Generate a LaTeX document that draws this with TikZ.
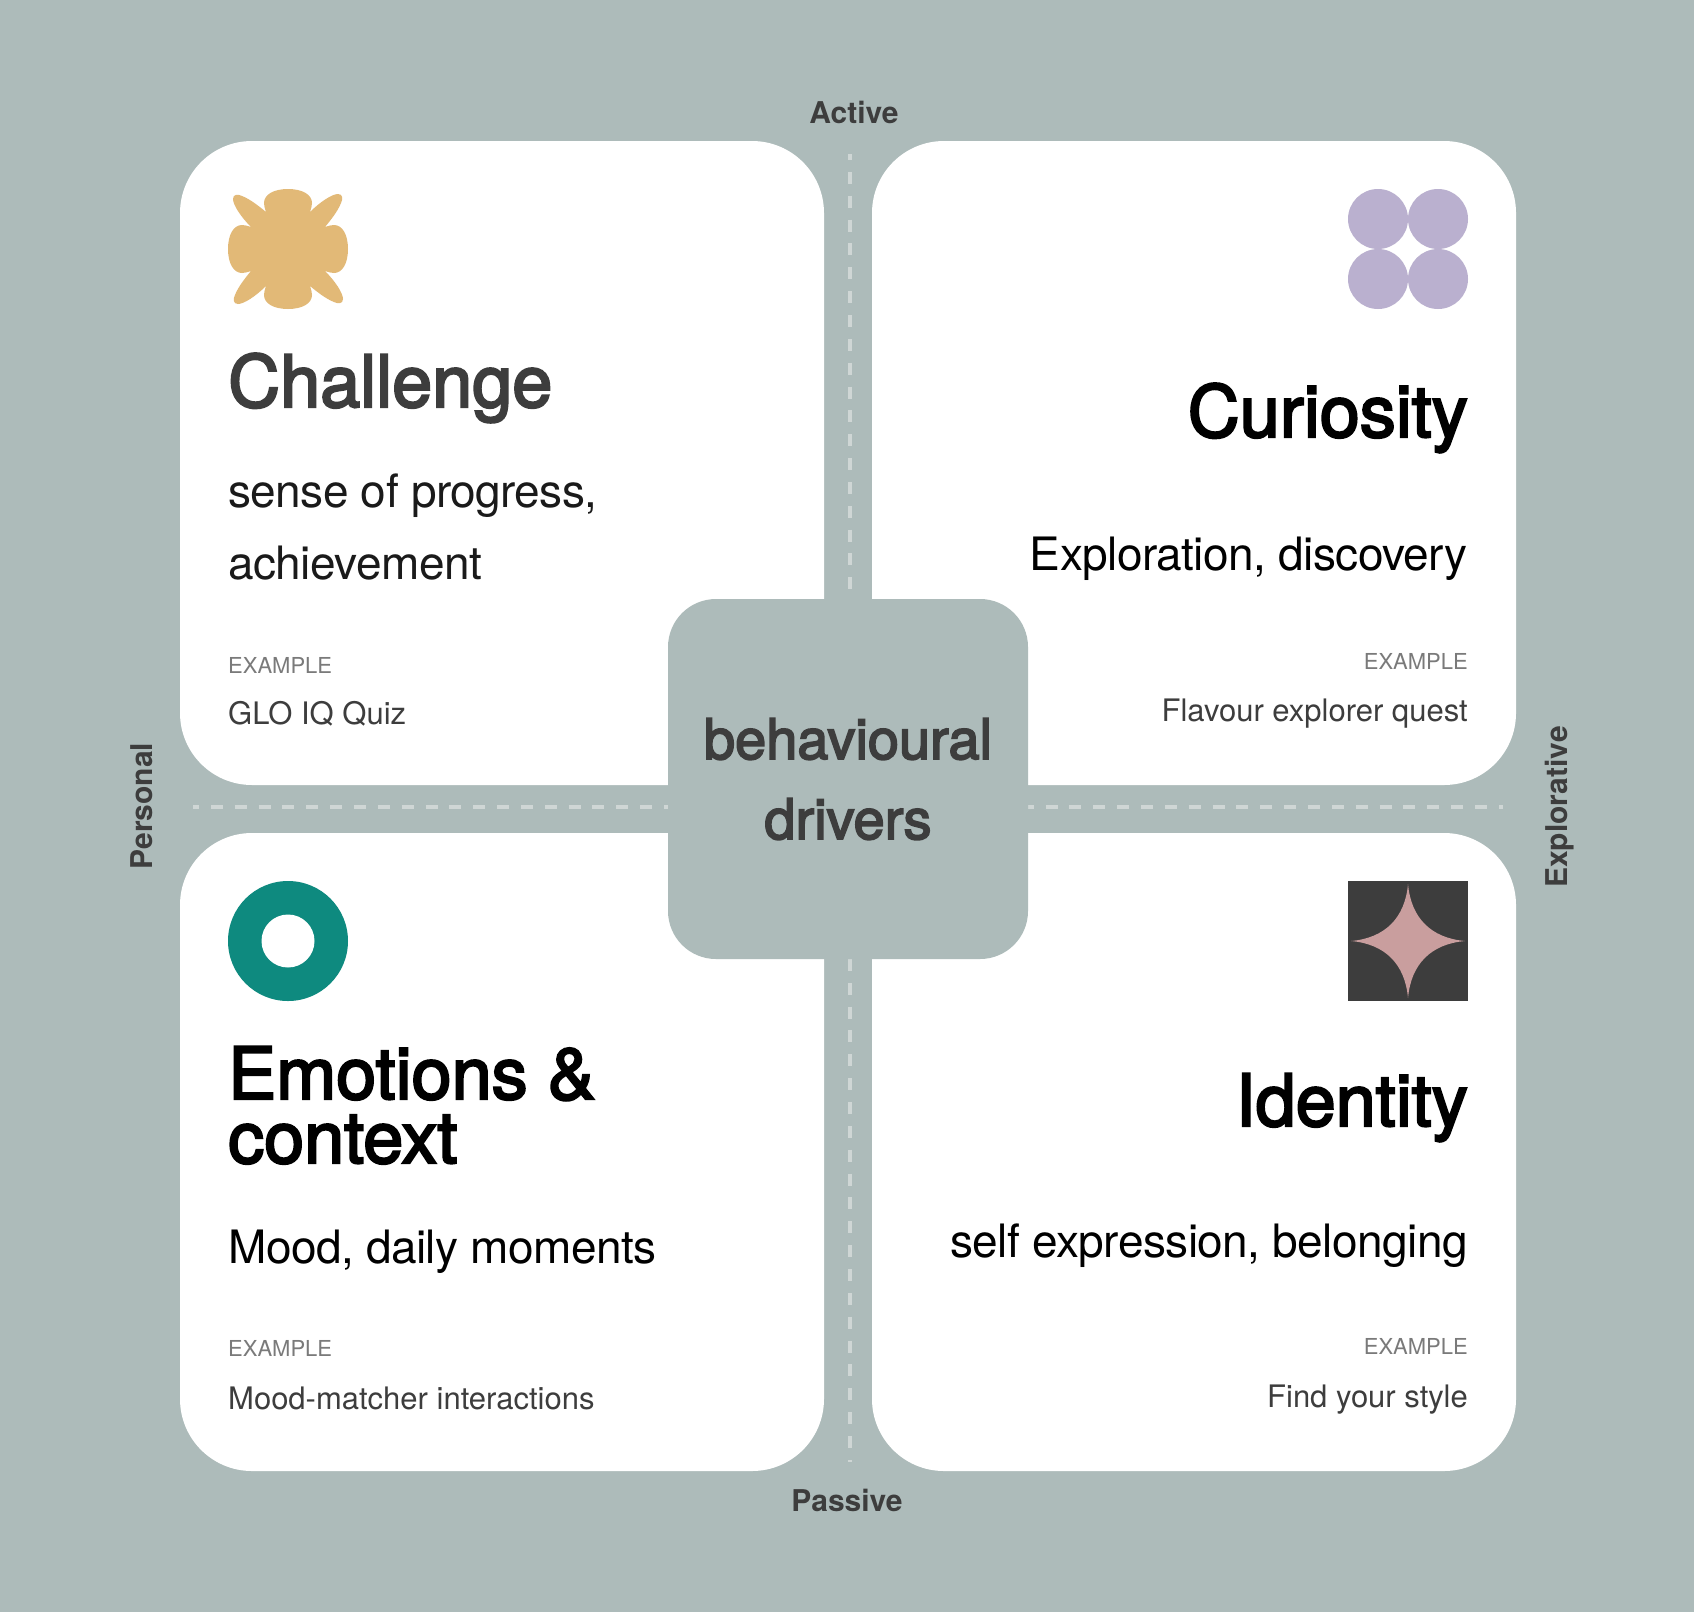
\documentclass[tikz,border=0pt]{standalone}
\usepackage{fontspec}
\setmainfont{TeX Gyre Heros}
\newfontfamily\midfont[FakeBold=3]{TeX Gyre Heros}
\newfontfamily\subfont[LetterSpace=-1.2]{TeX Gyre Heros}
\usetikzlibrary{positioning}
\definecolor{bgcol}{HTML}{ADBBBA}
\definecolor{dashcol}{HTML}{CFD6D5}
\definecolor{inkcol}{HTML}{3D3D3D}
\definecolor{softcol}{HTML}{1A1A1A}
\definecolor{labelcol}{HTML}{7A7A7A}
\definecolor{flowercol}{HTML}{E2B977}
\definecolor{dotcol}{HTML}{BAB0CF}
\definecolor{ringcol}{HTML}{0E8A7F}
\definecolor{starcol}{HTML}{C99E9E}
\newcommand{\fsize}[1]{\fontsize{#1}{#1}\selectfont}

\begin{document}
\begin{tikzpicture}[
  x=1pt,y=-1pt,
  every node/.style={inner sep=0pt},
  card/.style={fill=white,rounded corners=72pt,minimum width=644pt},
  hub/.style={fill=bgcol,rounded corners=48pt,minimum size=360pt},
  axis/.style={dashcol,line width=4pt,dash pattern=on 12pt off 11.85pt,dash phase=6pt},
  axlabel/.style={font=\bfseries\fsize{30},text=inkcol,anchor=base},
  title/.style={font=\midfont\fsize{72},text=black},
  sub/.style={font=\subfont\fsize{46},text=black},
  exlabel/.style={font=\fsize{22},text=labelcol},
  exitem/.style={font=\fsize{31},text=inkcol}
]
\useasboundingbox (0,0) rectangle (1694,1612);
\fill[bgcol] (0,0) rectangle (1694,1612);
% axes
\coordinate (axleft) at (193,807);
\coordinate (axright) at (1503,807);
\coordinate (axtop) at (850,154);
\coordinate (axbot) at (850,1462);
\draw[axis] (axleft) -- (axright);
\draw[axis] (axtop) -- (axbot);
% cards
\node[card,minimum height=644pt] (cardtl) at (502,463) {};
\node[card,minimum height=644pt] (cardtr) at (1194,463) {};
\node[card,minimum height=638pt] (cardbl) at (502,1152) {};
\node[card,minimum height=638pt] (cardbr) at (1194,1152) {};
\node[hub] (hub) at (848,779) {};
\node[font=\midfont\fsize{56},text=inkcol,anchor=base] (hubtop) at (848,759) {behavioural};
\node[font=\midfont\fsize{56},text=inkcol,anchor=base] (hubbot) at (848,839) {drivers};
% axis labels
\node[axlabel] (active) at (854,123) {Active};
\node[axlabel] (passive) at (847,1511) {Passive};
\node[axlabel,rotate=90] (personal) at (152,806) {Personal};
\node[axlabel,rotate=90] (explorative) at (1567,807) {Explorative};
% top left
\fill[flowercol,shift={(288,249)}] (0,-60)
  .. controls (15,-60) and (24,-54) .. (24,-46)
  .. controls (24,-43) and (23,-40) .. (22,-37)
  .. controls (32,-47) and (44,-55) .. (50,-55)
  .. controls (55,-55) and (55,-50) .. (53,-46)
  .. controls (50,-38) and (42,-28) .. (37,-22)
  .. controls (40,-23) and (43,-24) .. (46,-24)
  .. controls (54,-24) and (60,-15) .. (60,0)
  .. controls (60,15) and (54,24) .. (46,24)
  .. controls (43,24) and (40,23) .. (37,22)
  .. controls (47,32) and (55,44) .. (55,50)
  .. controls (55,55) and (50,55) .. (46,53)
  .. controls (38,50) and (28,42) .. (22,37)
  .. controls (23,40) and (24,43) .. (24,46)
  .. controls (24,54) and (15,60) .. (0,60)
  .. controls (-15,60) and (-24,54) .. (-24,46)
  .. controls (-24,43) and (-23,40) .. (-22,37)
  .. controls (-32,47) and (-44,55) .. (-50,55)
  .. controls (-55,55) and (-55,50) .. (-53,46)
  .. controls (-50,38) and (-42,28) .. (-37,22)
  .. controls (-40,23) and (-43,24) .. (-46,24)
  .. controls (-54,24) and (-60,15) .. (-60,0)
  .. controls (-60,-15) and (-54,-24) .. (-46,-24)
  .. controls (-43,-24) and (-40,-23) .. (-37,-22)
  .. controls (-47,-32) and (-55,-44) .. (-55,-50)
  .. controls (-55,-55) and (-50,-55) .. (-46,-53)
  .. controls (-38,-50) and (-28,-42) .. (-22,-37)
  .. controls (-23,-40) and (-24,-43) .. (-24,-46)
  .. controls (-24,-54) and (-15,-60) .. (0,-60) -- cycle;
\node[title,text=inkcol,anchor=base west] (challenge) at (228,407) {Challenge};
\node[sub,text=softcol,anchor=base west] (progress) at (228,507) {sense of progress,};
\node[sub,text=softcol,anchor=base west] (achieve) at (228,579) {achievement};
\node[exlabel,anchor=base west] (extl) at (228,673) {EXAMPLE};
\node[exitem,anchor=base west] (quiz) at (228,724) {GLO IQ Quiz};
% top right
\foreach \cx/\cy in {1378/219,1438/219,1378/279,1438/279}
  \fill[dotcol] (\cx,\cy) circle (30pt);
\node[title,anchor=base east] (curiosity) at (1468,437) {Curiosity};
\node[sub,anchor=base east] (explore) at (1468,570) {Exploration, discovery};
\node[exlabel,anchor=base east] (extr) at (1468,669) {EXAMPLE};
\node[exitem,anchor=base east] (quest) at (1468,721) {Flavour explorer quest};
% bottom left
\fill[ringcol] (288,941) circle (60pt);
\fill[white] (288,941) circle (26.5pt);
\node[title,anchor=base west] (emotions) at (228,1099) {Emotions \&};
\node[title,anchor=base west] (context) at (228,1163) {context};
\node[sub,anchor=base west] (mood) at (228,1263) {Mood, daily moments};
\node[exlabel,anchor=base west] (exbl) at (228,1356) {EXAMPLE};
\node[exitem,anchor=base west] (matcher) at (228,1409) {Mood-matcher interactions};
% bottom right
\fill[inkcol] (1348,881) rectangle (1468,1001);
\fill[starcol] (1408,884)
  .. controls (1411,918) and (1431,938) .. (1465,941)
  .. controls (1431,944) and (1411,964) .. (1408,998)
  .. controls (1405,964) and (1385,944) .. (1351,941)
  .. controls (1385,938) and (1405,918) .. (1408,884) -- cycle;
\node[title,anchor=base east] (identity) at (1468,1126) {Identity};
\node[sub,anchor=base east] (belong) at (1468,1257) {self expression, belonging};
\node[exlabel,anchor=base east] (exbr) at (1468,1354) {EXAMPLE};
\node[exitem,anchor=base east] (style) at (1468,1407) {Find your style};
\end{tikzpicture}
\end{document}
